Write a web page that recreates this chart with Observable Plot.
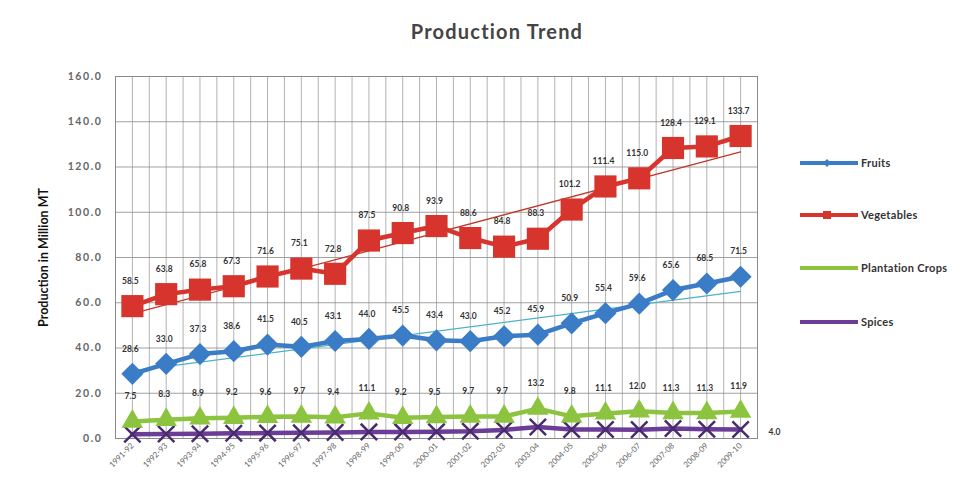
<!DOCTYPE html>
<html>
<head>
<meta charset="utf-8">
<script src="https://cdn.jsdelivr.net/npm/d3@7"></script>
<script src="https://cdn.jsdelivr.net/npm/@observablehq/plot@0.6"></script>
<style>
  html, body { margin: 0; padding: 0; background: #fff; }
  #wrap { position: relative; width: 978px; height: 482px; font-family: Lato, "Open Sans", sans-serif; }
  #title { position: absolute; top: 19px; left: 0; width: 994px; text-align: center; font-size: 20px; color: #444; font-weight: bold; letter-spacing: 1.2px; }
  #legend { position: absolute; left: 798px; top: 0; }
  .li { position: absolute; left: 0; display: flex; align-items: center; white-space: nowrap; font-size: 11px; color: #333; font-weight: bold; letter-spacing: 0.3px; }
  .li svg { display: block; margin-right: 3px; }
  #chart g[aria-label="y-axis label"] text { font-weight: bold; font-size: 12.5px; fill: #111; }
  #chart g[aria-label="y-axis tick label"] text { letter-spacing: 1.6px; }
</style>
</head>
<body>
<div id="wrap">
  <div id="chart"></div>
  <div id="title">Production Trend</div>
  <div id="legend"></div>
</div>
<script>
const years = ["1991-92","1992-93","1993-94","1994-95","1995-96","1996-97","1997-98","1998-99","1999-00","2000-01","2001-02","2002-03","2003-04","2004-05","2005-06","2006-07","2007-08","2008-09","2009-10"];
const fruits = [28.6,33.0,37.3,38.6,41.5,40.5,43.1,44.0,45.5,43.4,43.0,45.2,45.9,50.9,55.4,59.6,65.6,68.5,71.5];
const vegetables = [58.5,63.8,65.8,67.3,71.6,75.1,72.8,87.5,90.8,93.9,88.6,84.8,88.3,101.2,111.4,115.0,128.4,129.1,133.7];
const plantation = [7.5,8.3,8.9,9.2,9.6,9.7,9.4,11.1,9.2,9.5,9.7,9.7,13.2,9.8,11.1,12.0,11.3,11.3,11.9];
const spices = [1.9,2.0,2.1,2.3,2.4,2.5,2.7,2.9,2.9,3.0,3.2,3.8,5.1,4.0,4.0,3.9,4.4,4.1,4.0];
const seriesNames = ["Fruits","Vegetables","Plantation Crops","Spices"];
const yTicks = [0,20,40,60,80,100,120,140,160];

const colors = {"Fruits":"#3b7cc6","Vegetables":"#d6342c","Plantation Crops":"#8cc440","Spices":"#6b3d96"};
const valuesBy = {"Fruits":fruits,"Vegetables":vegetables,"Plantation Crops":plantation,"Spices":spices};

const rows = seriesNames.flatMap(s => valuesBy[s].map((v, i) => ({series: s, i, year: years[i], value: v})));
const of = s => rows.filter(d => d.series === s);

const chart = Plot.plot({
  width: 978, height: 482,
  marginLeft: 115, marginRight: 221, marginTop: 76, marginBottom: 44,
  style: {fontFamily: "Lato, 'Open Sans', sans-serif", background: "white"},
  x: {type: "linear", domain: [-0.5, 18.5], axis: null},
  y: {domain: [0, 160], axis: null},
  marks: [
    Plot.gridX(d3.range(-0.5, 18.51, 0.5), {stroke: "#9a9a9a", strokeOpacity: 0.75}),
    Plot.gridY(yTicks, {stroke: "#8a8a8a", strokeOpacity: 0.8}),
    Plot.frame({stroke: "#8a8a8a"}),
    Plot.axisY(yTicks, {tickFormat: d => d.toFixed(1), tickSize: 0, tickPadding: 13, fontSize: 10.5, fontWeight: "bold", fill: "#666",
      label: "Production in Million MT", labelAnchor: "center", labelArrow: "none", labelOffset: 76}),
    Plot.axisX(d3.range(years.length), {tickFormat: i => years[i], tickRotate: -45, tickSize: 0, tickPadding: 6, fontSize: 8, fill: "#666", label: null}),
    // trend lines
    Plot.linearRegressionY(of("Vegetables"), {x: "i", y: "value", stroke: "#c0392b", strokeWidth: 1.3, ci: 0}),
    Plot.linearRegressionY(of("Fruits"), {x: "i", y: "value", stroke: "#4bb3c9", strokeWidth: 1.3, ci: 0}),
    // lines
    ...seriesNames.map(s => Plot.line(of(s), {x: "i", y: "value", stroke: colors[s], strokeWidth: 4.5})),
    // markers
    Plot.dot(of("Spices"), {x: "i", y: "value", symbol: "times", r: 7.5, stroke: "#4a2a70", strokeWidth: 2.5}),
    Plot.dot(of("Plantation Crops"), {x: "i", y: "value", symbol: "triangle", r: 8, fill: colors["Plantation Crops"]}),
    Plot.dot(of("Fruits"), {x: "i", y: "value", symbol: "diamond2", r: 10, fill: colors["Fruits"]}),
    Plot.dot(of("Vegetables"), {x: "i", y: "value", symbol: "square", r: 12.5, fill: colors["Vegetables"]}),
    // data labels
    ...["Fruits","Vegetables","Plantation Crops"].map(s => Plot.text(of(s), {x: "i", y: "value", text: d => d.value.toFixed(1), dy: -25, dx: -2, fontSize: 8.5, fontWeight: "bold", fill: "#333"})),
    Plot.text(of("Spices").filter(d => d.i === years.length - 1), {x: "i", y: "value", text: d => d.value.toFixed(1), dx: 28, dy: 3, textAnchor: "start", fontSize: 8.5, fontWeight: "bold", fill: "#333"})
  ]
});
document.getElementById("chart").appendChild(chart);

// legend
const legend = document.getElementById("legend");
const legendY = {"Fruits": 163, "Vegetables": 215, "Plantation Crops": 268, "Spices": 322};
const markerFor = {
  "Fruits": c => `<path d="M29,2 L33,6 L29,10 L25,6 Z" fill="${c}"/>`,
  "Vegetables": c => `<rect x="25" y="2" width="8" height="8" fill="${c}"/>`,
  "Plantation Crops": c => ``,
  "Spices": c => ``
};
for (const s of seriesNames) {
  const c = colors[s];
  const div = document.createElement("div");
  div.className = "li";
  div.style.top = (legendY[s] - 7) + "px";
  div.innerHTML = `<svg width="60" height="12"><line x1="2" x2="60" y1="6" y2="6" stroke="${c}" stroke-width="4"/>${markerFor[s](c)}</svg><span>${s}</span>`;
  legend.appendChild(div);
}
</script>
</body>
</html>
